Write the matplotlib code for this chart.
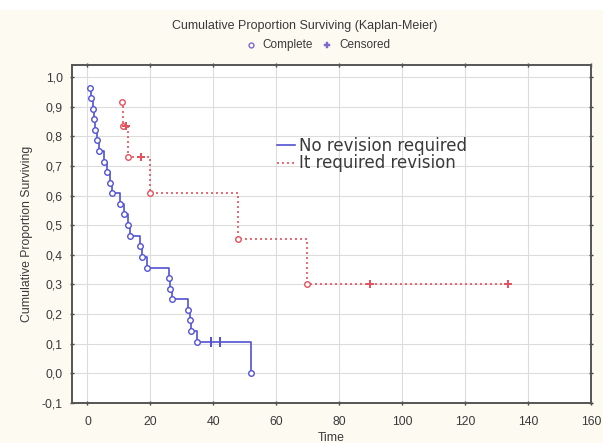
import matplotlib
matplotlib.use("Agg")
import matplotlib.pyplot as plt
from matplotlib.lines import Line2D
from matplotlib.ticker import FuncFormatter

# ---- data ----
blue_label = "No revision required"
red_label = "It required revision"

blue_time = [0.8, 1.2, 1.6, 2.0, 2.5, 3.0, 3.8, 5.2, 6.1, 7.3, 7.7, 10.3, 11.5,
             13.0, 13.5, 16.7, 17.2, 18.8, 26.0, 26.3, 26.7, 32.0, 32.5, 33.0,
             34.9, 52.0]
blue_surv = [0.964, 0.929, 0.893, 0.857, 0.821, 0.786, 0.750, 0.714, 0.679,
             0.643, 0.607, 0.571, 0.536, 0.500, 0.464, 0.429, 0.393, 0.357,
             0.321, 0.286, 0.250, 0.214, 0.179, 0.143, 0.107, 0.0]
blue_cens_time = [39.1, 42.0]
blue_cens_surv = [0.107, 0.107]

red_time = [10.9, 11.2, 13.0, 19.8, 47.9, 69.8]
red_surv = [0.917, 0.833, 0.729, 0.607, 0.455, 0.303]
red_cens_time = [12.2, 16.9, 89.7, 133.6]
red_cens_surv = [0.833, 0.729, 0.303, 0.303]

x_ticks = [0, 20, 40, 60, 80, 100, 120, 140, 160]
y_ticks = [-0.1, 0.0, 0.1, 0.2, 0.3, 0.4, 0.5, 0.6, 0.7, 0.8, 0.9, 1.0]

BLUE = "#5252d4"
RED = "#e4505c"
KEY = "#7a6ad0"
CREAM = "#fcfaf1"
TXT = "#3a3a3a"

plt.rcParams['font.family'] = ['Liberation Sans', 'DejaVu Sans']

fig = plt.figure(figsize=(6.03, 4.43), dpi=100, facecolor=CREAM)
ax = fig.add_axes([0.119, 0.0903, 0.861, 0.7627])
ax.set_facecolor("white")

# white strip at the very top
fig.patches.append(plt.Rectangle((0, 0.977), 1, 0.023, transform=fig.transFigure,
                                 facecolor="white", edgecolor="none", zorder=-1))


def step_path(t, s, ct, cs):
    pts = sorted(list(zip(t, s)) + list(zip(ct, cs)), key=lambda p: (p[0], -p[1]))
    return [p[0] for p in pts], [p[1] for p in pts]

bx, by = step_path(blue_time, blue_surv, blue_cens_time, blue_cens_surv)
rx, ry = step_path(red_time, red_surv, red_cens_time, red_cens_surv)

ax.step(bx, by, where="post", color=BLUE, lw=1.2, zorder=3)
ax.step(rx, ry, where="post", color=RED, lw=1.2, ls=(0, (1.2, 1.8)), zorder=3)

ax.plot(blue_time, blue_surv, ls="none", marker="o", ms=4.0, mfc="white",
        mec=BLUE, mew=1.0, zorder=4)
ax.plot(blue_cens_time, blue_cens_surv, ls="none", marker="|", ms=7,
        mec=BLUE, mew=1.4, zorder=4)
ax.plot(red_time, red_surv, ls="none", marker="o", ms=4.0, mfc="white",
        mec=RED, mew=1.0, zorder=4)
ax.plot(red_cens_time, red_cens_surv, ls="none", marker="+", ms=5.5,
        mec=RED, mew=1.4, zorder=4)

ax.set_xlim(-5, 160)
ax.set_ylim(-0.1, 1.04)
ax.set_xticks(x_ticks)
ax.set_yticks(y_ticks)
ax.yaxis.set_major_formatter(FuncFormatter(lambda v, p: f"{v:.1f}".replace(".", ",")))
ax.grid(True, color="#dcdcdc", lw=0.8)
ax.set_axisbelow(True)
ax.tick_params(direction="inout", length=3, width=1, color="#444444",
               labelsize=8.8, labelcolor=TXT, top=True, right=True)
ax.tick_params(axis="x", pad=8)
ax.tick_params(axis="y", pad=5)
for sp in ax.spines.values():
    sp.set_color("#555555")
    sp.set_linewidth(1.4)

ax.set_xlabel("Time", fontsize=8.8, color=TXT, labelpad=3)
ax.set_ylabel("Cumulative Proportion Surviving", fontsize=8.8, color=TXT, labelpad=6)

# title and marker key
fig.text(0.505, 0.941, "Cumulative Proportion Surviving (Kaplan-Meier)",
         ha="center", va="center", fontsize=9, color=TXT)
fig.text(262 / 603, 0.898, "Complete", ha="left", va="center", fontsize=8.5, color=TXT)
fig.text(339 / 603, 0.898, "Censored", ha="left", va="center", fontsize=8.5, color=TXT)
fig.lines.append(Line2D([251 / 603], [0.898], transform=fig.transFigure, ls="none",
                        marker="o", ms=3.5, mfc="white", mec=KEY, mew=1.0))
fig.lines.append(Line2D([327 / 603], [0.898], transform=fig.transFigure, ls="none",
                        marker="P", ms=4, mfc=KEY, mec=KEY, mew=0.3))

handles = [Line2D([], [], color=BLUE, lw=1.2),
           Line2D([], [], color=RED, lw=1.2, ls=(0, (1.2, 1.8)))]
leg = ax.legend(handles, [blue_label, red_label], loc="upper left",
                bbox_to_anchor=(0.459, 0.690), bbox_transform=fig.transFigure,
                frameon=False, handlelength=1.1, handletextpad=0.25,
                labelspacing=-0.05, borderpad=0, borderaxespad=0,
                prop={'family': 'DejaVu Sans', 'size': 12})
for t in leg.get_texts():
    t.set_color(TXT)

fig.savefig("out.png", dpi=100, facecolor=CREAM)
